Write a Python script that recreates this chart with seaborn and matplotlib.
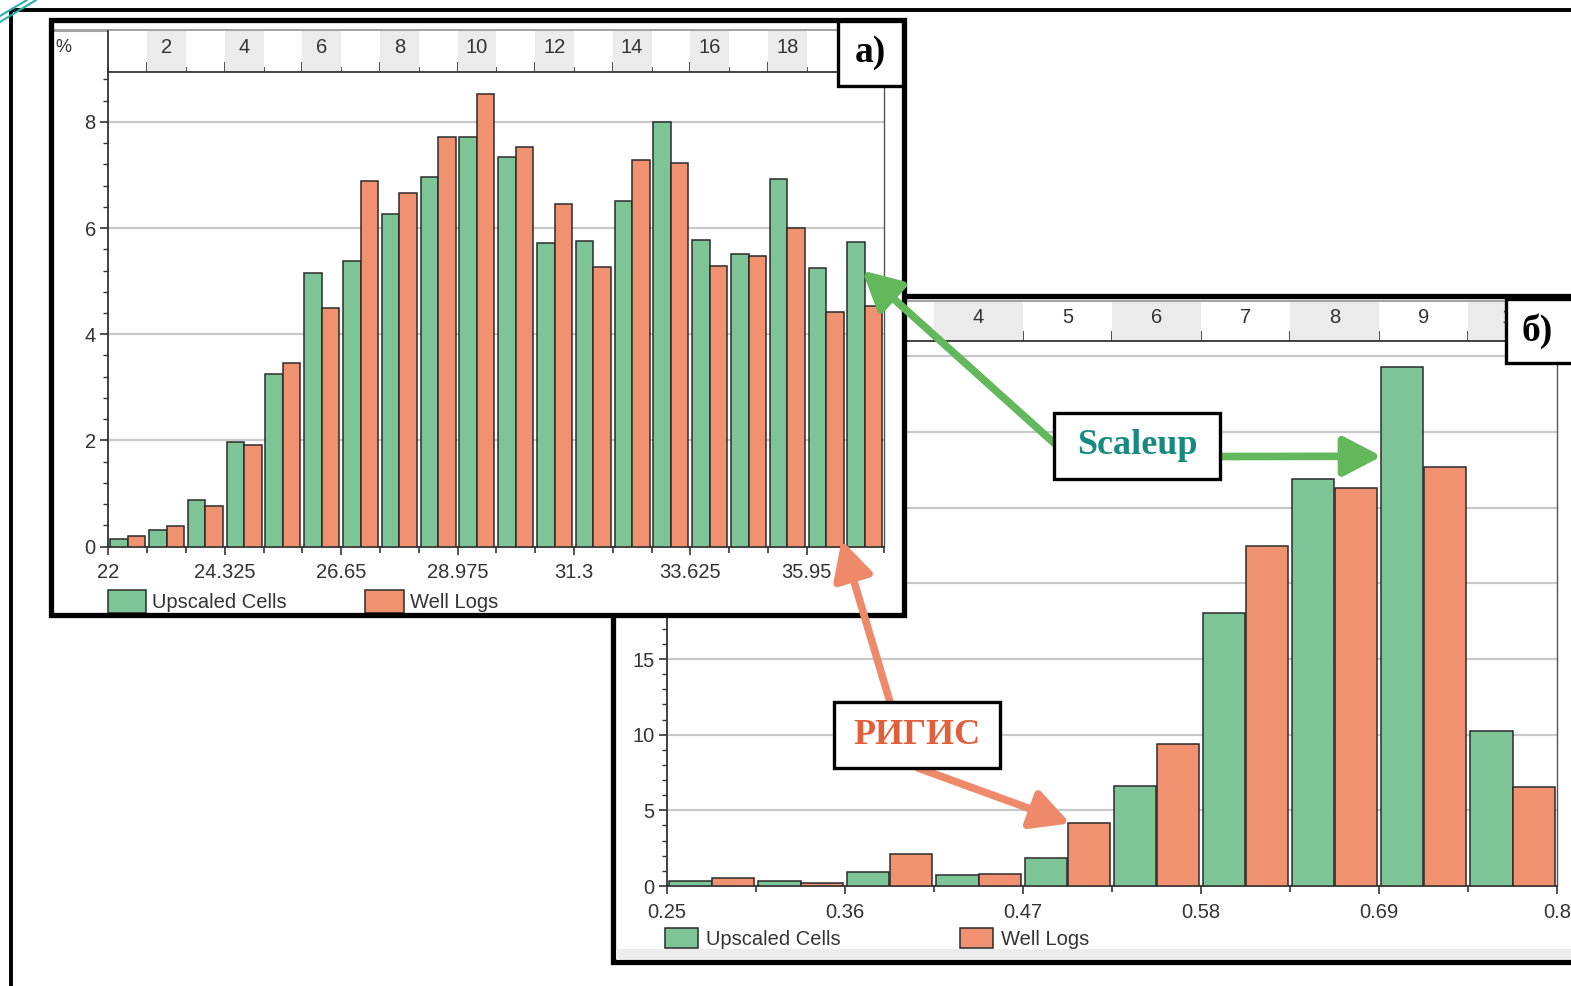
import numpy as np
import pandas as pd
import matplotlib
matplotlib.use("Agg")
import matplotlib.pyplot as plt
from matplotlib.patches import Rectangle, Patch
from matplotlib.ticker import MultipleLocator, FixedLocator, NullFormatter
import seaborn as sns

W, H = 1571, 986

# ---- Histogram (а): 20 classes, 22 .. 37.5, step 0.775 ----
a_start = 22.0
a_step = 0.775
a_label_every = 3
upscaled_a = [0.14, 0.32, 0.88, 1.97, 3.25, 5.15, 5.38, 6.27, 6.96, 7.72,
              7.33, 5.71, 5.75, 6.51, 8.00, 5.77, 5.51, 6.92, 5.25, 5.74]
welllogs_a = [0.20, 0.39, 0.76, 1.91, 3.45, 4.50, 6.88, 6.66, 7.72, 8.53,
              7.52, 6.46, 5.26, 7.29, 7.22, 5.29, 5.48, 6.00, 4.42, 4.53]

# ---- Histogram (б): 10 classes, 0.25 .. 0.80, step 0.055 ----
b_start = 0.25
b_step = 0.055
b_label_every = 2
upscaled_b = [0.35, 0.35, 0.91, 0.71, 1.87, 6.61, 18.06, 26.90, 34.28, 10.27]
welllogs_b = [0.55, 0.22, 2.11, 0.79, 4.14, 9.39, 22.49, 26.33, 27.71, 6.56]

SERIES = ["Upscaled Cells", "Well Logs"]
PALETTE = {"Upscaled Cells": "#7DC496", "Well Logs": "#F09170"}
EDGE = "#2b2b2b"
TXT = "#333333"
FS = 14.5

sns.set_style("white")
plt.rcParams["font.family"] = ["Liberation Sans", "DejaVu Sans"]

fig = plt.figure(figsize=(W / 100, H / 100), dpi=100)
fig.patch.set_facecolor("white")


def box(x0, y0, x1, y1):
    return [x0 / W, 1 - y1 / H, (x1 - x0) / W, (y1 - y0) / H]


def layer(z):
    lay = fig.add_axes([0, 0, 1, 1], zorder=z)
    lay.set_xlim(0, W)
    lay.set_ylim(H, 0)
    lay.axis("off")
    return lay


def long_form(up, wl):
    n = len(up)
    return pd.DataFrame({
        "bin": list(range(1, n + 1)) * 2,
        "series": [SERIES[0]] * n + [SERIES[1]] * n,
        "pct": list(up) + list(wl),
    })


def edge_label(v):
    return f"{v:.4f}".rstrip("0").rstrip(".")


def histogram(ax, strip, up, wl, start, step, label_every, ymax, ymaj, ymin,
              bar_width, strip_labels, strip_major_even):
    n = len(up)
    sns.barplot(data=long_form(up, wl), x="bin", y="pct", hue="series",
                hue_order=SERIES, palette=PALETTE, width=bar_width,
                saturation=1, edgecolor=EDGE, linewidth=1.1, errorbar=None,
                legend=False, ax=ax, zorder=3)
    ax.set_xlim(-0.5, n - 0.5)
    ax.set_ylim(0, ymax)
    ax.set_xlabel("")
    ax.set_ylabel("")
    ax.set_facecolor("white")

    ks = range(0, n // label_every + 1)
    ax.xaxis.set_major_locator(FixedLocator([-0.5 + k * label_every for k in ks]))
    ax.set_xticklabels([edge_label(start + k * label_every * step) for k in ks])
    ax.xaxis.set_minor_locator(FixedLocator([-0.5 + i for i in range(n + 1)]))
    ax.yaxis.set_major_locator(MultipleLocator(ymaj))
    ax.yaxis.set_minor_locator(MultipleLocator(ymin))
    ax.yaxis.set_major_formatter(plt.FuncFormatter(lambda v, p: f"{v:g}"))

    ax.tick_params(axis="x", which="major", direction="out", length=6, width=1.2,
                   color=TXT, labelsize=FS, labelcolor=TXT, pad=6)
    ax.tick_params(axis="x", which="minor", direction="out", length=4, width=1.2, color=TXT)
    ax.tick_params(axis="y", which="major", direction="out", length=6, width=1.2,
                   color=TXT, labelsize=FS, labelcolor=TXT, pad=3)
    ax.tick_params(axis="y", which="minor", direction="out", length=3.5, width=1.0, color=TXT)
    ax.tick_params(bottom=True, left=True, which="both")

    ax.grid(False)
    ax.yaxis.grid(True, which="major", color="#c9c9c9", lw=1.6)
    ax.set_axisbelow(True)
    ax.spines["top"].set_visible(False)
    ax.spines["right"].set_color("#555555")
    ax.spines["right"].set_linewidth(1.0)
    for s in ("left", "bottom"):
        ax.spines[s].set_color(TXT)
        ax.spines[s].set_linewidth(1.3)

    # class-number strip above the plot
    strip.set_xlim(-0.5, n - 0.5)
    strip.set_ylim(0, 1)
    strip.set_facecolor("white")
    for i in range(n):
        if (i + 1) % 2 == 0:
            strip.axvspan(i - 0.5, i + 0.5, color="#ebebeb", lw=0)
        if (i + 1) in strip_labels:
            strip.text(i, 0.6, str(i + 1), ha="center", va="center",
                       fontsize=FS, color=TXT)
    if strip_major_even:
        major = [i - 0.5 for i in range(n) if (i + 1) % 2 == 0]
        minor = [i - 0.5 for i in range(n) if (i + 1) % 2 == 1]
    else:
        major = [i - 0.5 for i in range(n + 1)]
        minor = []
    strip.xaxis.set_major_locator(FixedLocator(major))
    strip.xaxis.set_minor_locator(FixedLocator(minor))
    strip.xaxis.set_major_formatter(NullFormatter())
    strip.xaxis.set_minor_formatter(NullFormatter())
    strip.tick_params(axis="x", which="major", direction="in", length=7, width=1.2,
                      color=TXT, bottom=True, top=False, labelbottom=False)
    strip.tick_params(axis="x", which="minor", direction="in", length=3.5, width=1.2,
                      color=TXT, bottom=True, top=False)
    strip.set_yticks([])
    strip.spines["top"].set_visible(False)
    strip.spines["right"].set_visible(False)
    for s in ("left", "bottom"):
        strip.spines[s].set_color(TXT)
        strip.spines[s].set_linewidth(1.3)


def legend(ax, x, y, hl, hh, tp, cs):
    handles = [Patch(facecolor=PALETTE[s], edgecolor=EDGE, lw=1.1, label=s) for s in SERIES]
    ax.legend(handles=handles, ncol=2, loc="upper left",
              bbox_to_anchor=(x / W, 1 - y / H), bbox_transform=fig.transFigure,
              frameon=False, fontsize=FS, handlelength=hl, handleheight=hh,
              handletextpad=tp, columnspacing=cs, borderpad=0, borderaxespad=0,
              labelcolor=TXT)


# ---------------- background layer: outer frame and panel (б) frame -------------
L0 = layer(0)
L0.plot([11, W + 5], [10, 10], color="black", lw=2.8, solid_capstyle="butt")
L0.plot([11, 11], [10, H + 5], color="black", lw=2.8, solid_capstyle="butt")
L0.plot([0, 27], [16, 0], color="#2aaeb0", lw=1.5)
L0.plot([0, 36], [22, 0], color="#2aaeb0", lw=1.5)
L0.add_patch(Rectangle((613, 296), 1000, 666, facecolor="white", edgecolor="black", lw=3.8))
L0.add_patch(Rectangle((616, 949), 1000, 10, facecolor="#ececec", lw=0))
L0.plot([905, 1506], [300.5, 300.5], color="#a3a3a3", lw=2.2)

# ---------------- panel (б) ----------------
ax_b = fig.add_axes(box(667, 341.3, 1557, 886), zorder=1)
st_b = fig.add_axes(box(667, 302, 1557, 341.3), zorder=1)
histogram(ax_b, st_b, upscaled_b, welllogs_b, b_start, b_step, b_label_every,
          ymax=36, ymaj=5, ymin=1, bar_width=0.95,
          strip_labels=set(range(1, 11)), strip_major_even=False)
legend(ax_b, 665, 928, 1.64, 1.15, 0.4, 5.9)

# ---------------- panel (а) background ----------------
L2 = layer(2)
L2.add_patch(Rectangle((51, 20), 853, 595, facecolor="white", edgecolor="none"))
L2.plot([53, 838], [29.5, 29.5], color="#a3a3a3", lw=2.2)
L2.add_patch(Rectangle((1506, 299), 100, 64, facecolor="white", edgecolor="black", lw=2.4))
L2.text(1537, 331, "б)", ha="center", va="center", fontsize=27, fontweight="bold",
        family=["Liberation Serif", "DejaVu Serif"], color="black")

# ---------------- panel (а) ----------------
ax_a = fig.add_axes(box(108.3, 72, 884.3, 546.5), zorder=3)
st_a = fig.add_axes(box(108.3, 31, 884.3, 72), zorder=3)
histogram(ax_a, st_a, upscaled_a, welllogs_a, a_start, a_step, a_label_every,
          ymax=8.94, ymaj=2, ymin=0.4, bar_width=0.9,
          strip_labels={2, 4, 6, 8, 10, 12, 14, 16, 18}, strip_major_even=True)
legend(ax_a, 108, 590, 1.9, 1.4, 0.3, 3.9)

# ---------------- foreground: frames, labels, callouts ----------------
L4 = layer(4)
L4.add_patch(Rectangle((51, 20), 853, 595, facecolor="none", edgecolor="black", lw=3.8))
L4.add_patch(Rectangle((838, 21), 65, 65, facecolor="white", edgecolor="black", lw=2.4))
L4.text(870, 53, "а)", ha="center", va="center", fontsize=27, fontweight="bold",
        family=["Liberation Serif", "DejaVu Serif"], color="black")
L4.text(55, 48, "%", ha="left", va="center", fontsize=13, color=TXT)

GREEN_ARROW = "#62b85a"
ORANGE_ARROW = "#ee8a6a"
SERIF = ["Liberation Serif", "DejaVu Serif"]


def callout(x0, y0, x1, y1, text, color):
    L4.add_patch(Rectangle((x0, y0), x1 - x0, y1 - y0, facecolor="white",
                           edgecolor="black", lw=2.4, zorder=5))
    L4.text((x0 + x1) / 2, (y0 + y1) / 2, text, ha="center", va="center",
            fontsize=26, fontweight="bold", family=SERIF, color=color, zorder=6)


def arrow(start, target_xy, target_ax, color):
    L4.annotate("", xy=target_xy, xycoords=target_ax.transData,
                xytext=start, textcoords=L4.transData,
                arrowprops=dict(arrowstyle="-|>,head_length=1.15,head_width=0.6",
                                mutation_scale=20, lw=5.5, color=color,
                                shrinkA=0, shrinkB=0),
                zorder=4)


# Scaleup: upscaled-cell bars of the last class in (а) and the modal class in (б)
arrow((1054, 443), (18.93, 5.2), ax_a, GREEN_ARROW)
arrow((1220, 456.5), (7.53, 28.4), ax_b, GREEN_ARROW)
callout(1054, 413, 1220, 479, "Scaleup", "#178a80")

# РИГИС: well-log bars in both histograms
arrow((890, 702), (18.4, 0.12), ax_a, ORANGE_ARROW)
arrow((918, 768), (4.03, 4.14), ax_b, ORANGE_ARROW)
callout(834, 702, 1000, 768, "РИГИС", "#e0603c")

fig.savefig("out.png", dpi=100, facecolor="white")
